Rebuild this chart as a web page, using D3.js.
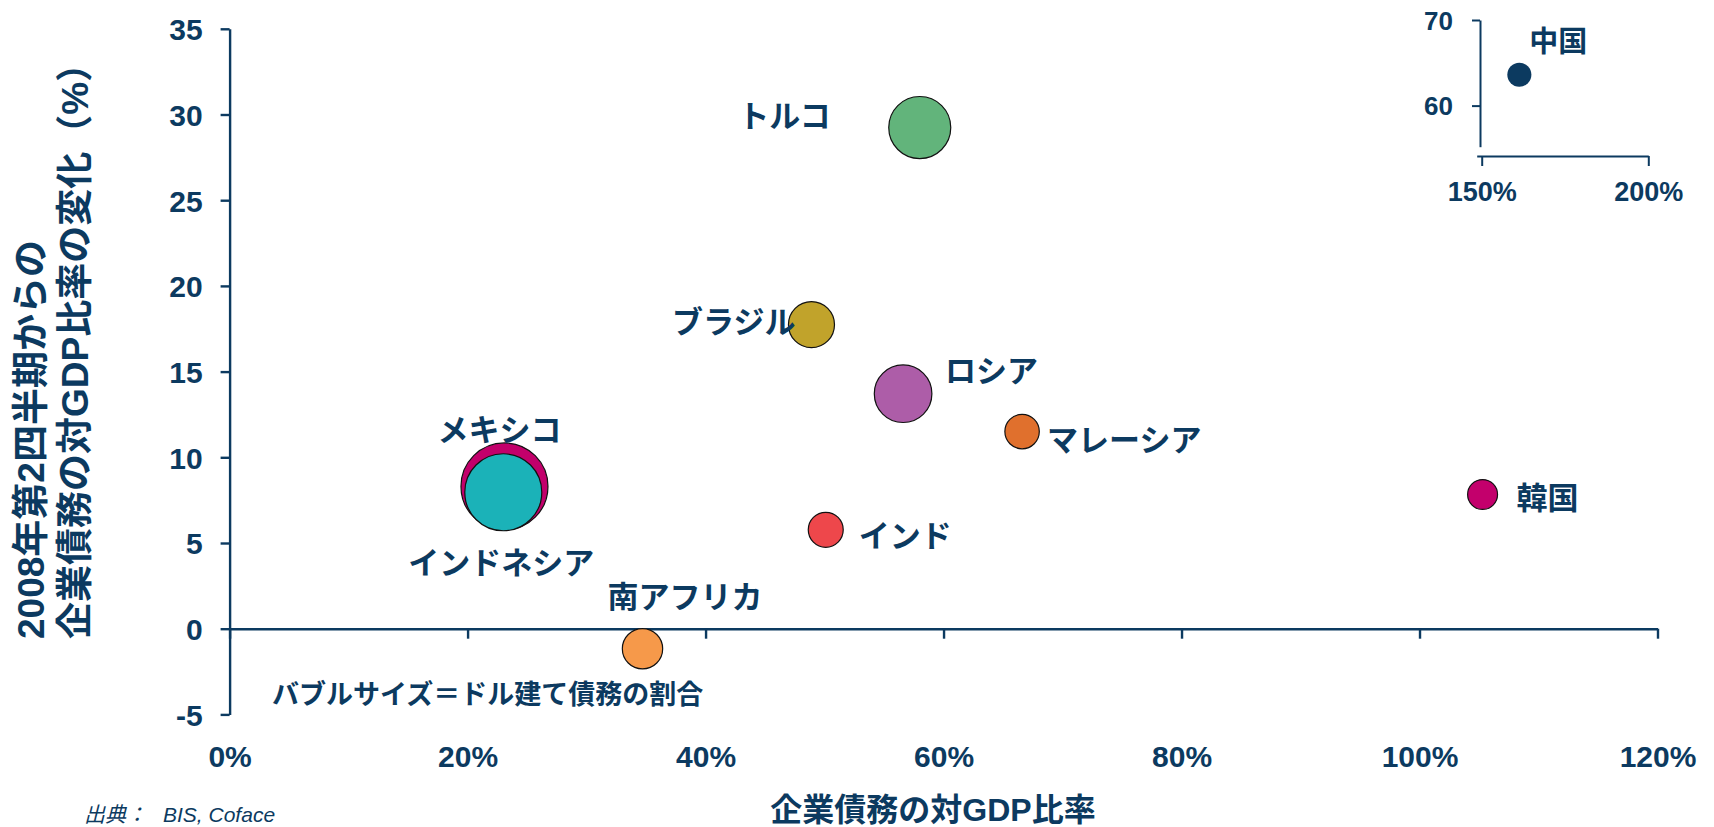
<!DOCTYPE html>
<html>
<head>
<meta charset="utf-8">
<script src="https://cdn.jsdelivr.net/npm/d3@7"></script>
<style>
  html, body { margin: 0; padding: 0; background: #ffffff; }
  svg { display: block; }
  text { font-family: "Liberation Sans", Arial, "Noto Sans CJK JP", sans-serif; }
</style>
</head>
<body>
<svg id="chart" width="1714" height="827"></svg>
<script>
// ---------- data ----------
const countries   = ["メキシコ", "インドネシア", "トルコ", "ロシア", "ブラジル", "南アフリカ", "インド", "マレーシア", "韓国"];
const debtToGDP   = [23.1, 23.0, 58.0, 56.6, 48.9, 34.7, 50.1, 66.6, 105.3];   // x, %
const changeSince = [8.3, 7.96, 29.24, 13.71, 17.74, -1.17, 5.77, 11.5, 7.83]; // y, pp
const usdShare    = [60, 47, 30.5, 26.3, 16.8, 12.9, 9.7, 9.4, 7.1];           // bubble size
const bubbleColors = ["#c2006b", "#1bb2b8", "#62b47b", "#ad5da8", "#c1a32b", "#f6994a", "#ee474b", "#e0702d", "#c3006c"];

const inset = { country: "中国", debtToGDP: 161.3, changeSince: 63.6, usdShare: 4.6 };

const xTicks = [0, 20, 40, 60, 80, 100, 120];
const yTicks = [-5, 0, 5, 10, 15, 20, 25, 30, 35];
const insetXTicks = [150, 200];
const insetYTicks = [60, 70];

const yTitleLines = ["2008年第2四半期からの", "企業債務の対GDP比率の変化（%）"];
const xTitle = "企業債務の対GDP比率";
const noteText = "バブルサイズ＝ドル建て債務の割合";
const sourceLabel = "出典：";
const sourceText = "BIS, Coface";

// label layout (offsets from bubble centre, px)
const labelLayout = {
  "メキシコ":     { dx: -5,  dy: -56, anchor: "middle" },
  "インドネシア": { dx: -2,  dy: 71,  anchor: "middle" },
  "トルコ":       { dx: -89, dy: -11, anchor: "end" },
  "ロシア":       { dx: 42,  dy: -22, anchor: "start" },
  "ブラジル":     { dx: -16, dy: -2,  anchor: "end" },
  "南アフリカ":   { dx: -35, dy: -51, anchor: "start" },
  "インド":       { dx: 33,  dy: 7,   anchor: "start" },
  "マレーシア":   { dx: 25,  dy: 9,   anchor: "start" },
  "韓国":         { dx: 34,  dy: 4,   anchor: "start" },
  "中国":         { dx: 10,  dy: -33, anchor: "start" }
};

// ---------- drawing ----------
const NAVY = "#0c3a60";
const svg = d3.select("#chart");

const x = d3.scaleLinear().domain([0, 120]).range([229.6, 1657.5]);
const y = d3.scaleLinear().domain([-5, 35]).range([714.4, 28.8]);
const r = d3.scaleSqrt().domain([0, 60]).range([0, 43.5]);

// y axis
const yAxis = svg.append("g")
  .attr("transform", `translate(${x(0)},0)`)
  .call(d3.axisLeft(y).tickValues(yTicks).tickSize(9).tickSizeOuter(0).tickPadding(18).tickFormat(d => String(d)));
yAxis.select(".domain").attr("stroke", NAVY).attr("stroke-width", 2.4);
yAxis.selectAll(".tick line").attr("stroke", NAVY).attr("stroke-width", 2.4);
yAxis.selectAll(".tick text").attr("fill", NAVY).attr("font-size", 30).attr("font-weight", "bold")
  .attr("dy", "0.36em");

// x axis line at y=0
const xAxis = svg.append("g")
  .attr("transform", `translate(0,${y(0)})`)
  .call(d3.axisBottom(x).tickValues(xTicks).tickSize(10).tickSizeOuter(0).tickFormat(""));
xAxis.select(".domain").attr("stroke", NAVY).attr("stroke-width", 2.4);
xAxis.selectAll(".tick line").attr("stroke", NAVY).attr("stroke-width", 2.4);

// x tick labels at bottom
const xLab = svg.append("g")
  .attr("transform", `translate(0,${y(-5)})`)
  .call(d3.axisBottom(x).tickValues(xTicks).tickSize(0).tickPadding(31).tickFormat(d => d + "%"));
xLab.select(".domain").remove();
xLab.selectAll(".tick text").attr("fill", NAVY).attr("font-size", 30).attr("font-weight", "bold");

// bubbles
const data = countries.map((c, i) => ({ c, x: debtToGDP[i], y: changeSince[i], s: usdShare[i], col: bubbleColors[i] }));
svg.append("g").selectAll("circle").data(data).join("circle")
  .attr("cx", d => x(d.x)).attr("cy", d => y(d.y)).attr("r", d => r(d.s))
  .attr("fill", d => d.col).attr("stroke", "#111").attr("stroke-width", 1.2);

// labels
svg.append("g").selectAll("text").data(data).join("text")
  .attr("x", d => x(d.x) + labelLayout[d.c].dx)
  .attr("y", d => y(d.y) + labelLayout[d.c].dy)
  .attr("text-anchor", d => labelLayout[d.c].anchor)
  .attr("dominant-baseline", "central")
  .attr("fill", NAVY).attr("font-size", 31).attr("font-weight", "bold")
  .text(d => d.c);

// note
svg.append("text").attr("x", 272).attr("y", 695).attr("dominant-baseline", "central")
  .attr("fill", NAVY).attr("font-size", 27).attr("font-weight", "bold").text(noteText);

// y title
yTitleLines.forEach((t, i) => {
  svg.append("text")
    .attr("transform", `translate(${31 + i * 44},639) rotate(-90)`)
    .attr("text-anchor", "start").attr("dominant-baseline", "central")
    .attr("fill", NAVY).attr("font-size", 37).attr("font-weight", "bold").text(t);
});

// x title
svg.append("text").attr("x", 933).attr("y", 810).attr("text-anchor", "middle").attr("dominant-baseline", "central")
  .attr("fill", NAVY).attr("font-size", 32).attr("font-weight", "bold").text(xTitle);

// source
const src = svg.append("text").attr("y", 814).attr("dominant-baseline", "central")
  .attr("fill", NAVY).attr("font-size", 21).attr("font-style", "italic");
src.append("tspan").attr("x", 84).text(sourceLabel);
src.append("tspan").attr("x", 163).text(sourceText);

// ---------- inset (China) ----------
const ix = d3.scaleLinear().domain([148.5, 200]).range([1476.7, 1648.3]);
const iy = d3.scaleLinear().domain([55.2, 70]).range([146.7, 20]);

const iyAxis = svg.append("g").attr("transform", `translate(${ix(148.5) + 3.3},0)`)
  .call(d3.axisLeft(iy).tickValues(insetYTicks).tickSize(8).tickSizeOuter(0).tickPadding(19).tickFormat(d => String(d)));
iyAxis.select(".domain").attr("stroke", NAVY).attr("stroke-width", 2);
iyAxis.selectAll(".tick line").attr("stroke", NAVY).attr("stroke-width", 2);
iyAxis.selectAll(".tick text").attr("fill", NAVY).attr("font-size", 26).attr("font-weight", "bold").attr("dy", "0.36em");

const ixAxis = svg.append("g").attr("transform", `translate(0,156)`)
  .call(d3.axisBottom(ix).tickValues(insetXTicks).tickSize(10).tickSizeOuter(0).tickPadding(16).tickFormat(d => d + "%"));
ixAxis.select(".domain").attr("stroke", NAVY).attr("stroke-width", 2);
ixAxis.selectAll(".tick line").attr("stroke", NAVY).attr("stroke-width", 2);
ixAxis.selectAll(".tick text").attr("fill", NAVY).attr("font-size", 27).attr("font-weight", "bold");

svg.append("circle").attr("cx", ix(inset.debtToGDP)).attr("cy", iy(inset.changeSince)).attr("r", r(inset.usdShare))
  .attr("fill", NAVY);
svg.append("text")
  .attr("x", ix(inset.debtToGDP) + labelLayout[inset.country].dx)
  .attr("y", iy(inset.changeSince) + labelLayout[inset.country].dy)
  .attr("dominant-baseline", "central")
  .attr("fill", NAVY).attr("font-size", 29).attr("font-weight", "bold").text(inset.country);
</script>
</body>
</html>
